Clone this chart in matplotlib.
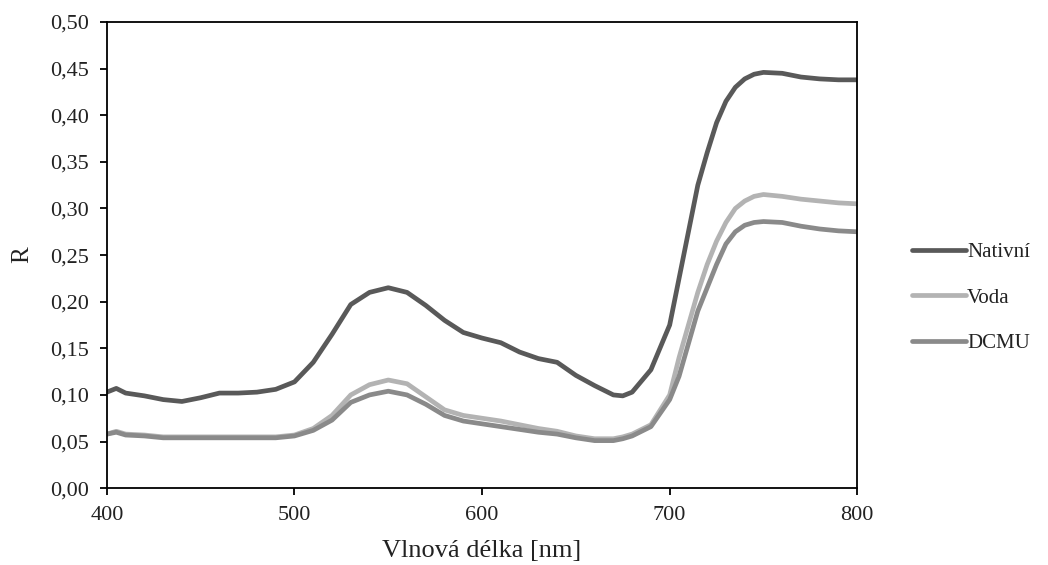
import numpy as np
import matplotlib
matplotlib.use("Agg")
import matplotlib.pyplot as plt
from matplotlib.ticker import FuncFormatter, MultipleLocator

plt.rcParams['font.family'] = ['Liberation Serif', 'DejaVu Serif']

# wavelength [nm]
wl = [400, 405, 410, 420, 430, 440, 450, 460, 470, 480, 490, 500, 510, 520,
      530, 540, 550, 560, 570, 580, 590, 600, 610, 620, 630, 640, 650, 660,
      670, 675, 680, 690, 700, 705, 710, 715, 720, 725, 730, 735, 740, 745,
      750, 760, 770, 780, 790, 800]

nativni = [0.103, 0.107, 0.102, 0.099, 0.095, 0.093, 0.097, 0.102, 0.102,
           0.103, 0.106, 0.114, 0.135, 0.165, 0.197, 0.210, 0.215, 0.210,
           0.196, 0.180, 0.167, 0.161, 0.156, 0.146, 0.139, 0.135, 0.121,
           0.110, 0.100, 0.099, 0.103, 0.127, 0.175, 0.225, 0.275, 0.325,
           0.360, 0.392, 0.415, 0.430, 0.439, 0.444, 0.446, 0.445, 0.441,
           0.439, 0.438, 0.438]

voda = [0.058, 0.061, 0.058, 0.057, 0.055, 0.055, 0.055, 0.055, 0.055,
        0.055, 0.055, 0.057, 0.064, 0.078, 0.100, 0.111, 0.116, 0.112,
        0.098, 0.084, 0.078, 0.075, 0.072, 0.068, 0.064, 0.061, 0.056,
        0.053, 0.053, 0.055, 0.058, 0.068, 0.100, 0.140, 0.175, 0.210,
        0.240, 0.265, 0.285, 0.300, 0.308, 0.313, 0.315, 0.313, 0.310,
        0.308, 0.306, 0.305]

dcmu = [0.058, 0.060, 0.057, 0.056, 0.054, 0.054, 0.054, 0.054, 0.054,
        0.054, 0.054, 0.056, 0.062, 0.073, 0.092, 0.100, 0.104, 0.100,
        0.090, 0.078, 0.072, 0.069, 0.066, 0.063, 0.060, 0.058, 0.054,
        0.051, 0.051, 0.053, 0.056, 0.066, 0.095, 0.120, 0.155, 0.190,
        0.215, 0.240, 0.262, 0.275, 0.282, 0.285, 0.286, 0.285, 0.281,
        0.278, 0.276, 0.275]

labels = ["Nativní", "Voda", "DCMU"]
colors = ["#595959", "#b3b3b3", "#8a8a8a"]

fig = plt.figure(figsize=(10.48, 5.65), dpi=100)
ax = fig.add_axes([0.102, 0.136, 0.716, 0.825])

for y, lab, c in zip([nativni, voda, dcmu], labels, colors):
    ax.plot(wl, y, color=c, lw=3.4, label=lab, solid_capstyle='round')

ax.set_xlim(400, 800)
ax.set_ylim(0, 0.5)
ax.xaxis.set_major_locator(MultipleLocator(100))
ax.yaxis.set_major_locator(MultipleLocator(0.05))
ax.yaxis.set_major_formatter(FuncFormatter(lambda v, p: ("%.2f" % v).replace(".", ",")))
ax.tick_params(direction='out', length=5, width=1.3, labelsize=16,
               colors='black', labelcolor='#222222')
ax.tick_params(axis='y', pad=8)
ax.tick_params(axis='x', pad=8)
for s in ax.spines.values():
    s.set_linewidth(1.3)

ax.set_xlabel("Vlnová délka [nm]", fontsize=19, labelpad=11, color='#222222')
ax.set_ylabel("R", fontsize=18, labelpad=12, color='#222222')

lg = fig.legend(loc='center left', bbox_to_anchor=(0.87, 0.473), frameon=False,
                fontsize=15, handlelength=2.6, handletextpad=0.05,
                labelspacing=1.25, borderpad=0, borderaxespad=0)
for t in lg.get_texts():
    t.set_color('#222222')

fig.savefig("out.png", dpi=100)
